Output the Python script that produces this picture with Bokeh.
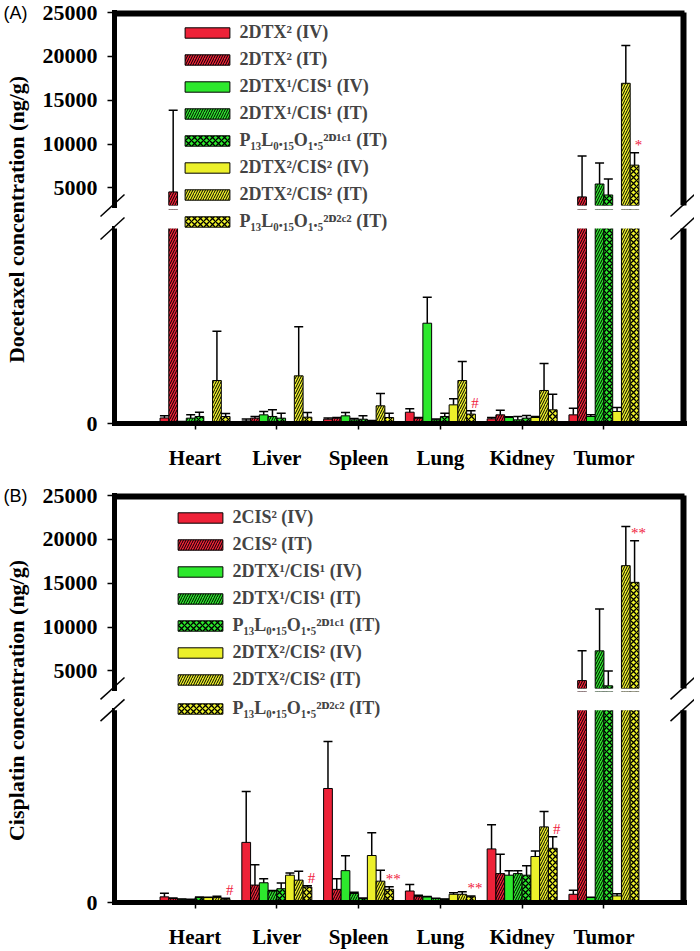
import numpy as np
from bokeh.plotting import figure
from bokeh.models import (FactorRange, Range1d, FixedTicker, ColumnDataSource, Legend,
                          LegendItem, Label, BoxAnnotation, CDSView, BooleanFilter)
from bokeh.transform import dodge
from bokeh.layouts import column, row
from bokeh.core.properties import value
from bokeh.embed import file_html
from bokeh.resources import INLINE

organs = ["Heart", "Liver", "Spleen", "Lung", "Kidney", "Tumor"]

# ---------------- (A) Docetaxel concentration (ng/g): mean and SD ----------------
dtx_2dtx2_iv = [85, 40, 66, 174, 72, 133]
dtx_2dtx2_iv_sd = [36, 30, 20, 52, 20, 103]
dtx_2dtx2_it = [4550, 82, 82, 82, 133, 3980]
dtx_2dtx2_it_sd = [9310, 26, 10, 10, 72, 4660]
dtx_2dtx1cis1_iv = [20, 133, 118, 1543, 92, 108]
dtx_2dtx1cis1_iv_sd = [10, 52, 51, 400, 10, 25]
dtx_2dtx1cis1_it = [82, 108, 56, 56, 56, 5450]
dtx_2dtx1cis1_it_sd = [51, 102, 20, 15, 52, 2390]
dtx_p13_2d1c1_it = [108, 82, 66, 108, 82, 4200]
dtx_p13_2d1c1_it_sd = [65, 77, 52, 51, 41, 1820]
dtx_2dtx2cis2_iv = [15, 15, 30, 287, 92, 185]
dtx_2dtx2cis2_iv_sd = [10, 10, 15, 92, 15, 61]
dtx_2dtx2cis2_it = [661, 733, 272, 661, 508, 16930]
dtx_2dtx2cis2_it_sd = [760, 755, 189, 293, 415, 4320]
dtx_p13_2d2c2_it = [108, 97, 92, 144, 210, 7600]
dtx_p13_2d2c2_it_sd = [46, 72, 67, 51, 241, 1400]
dtx_sig = ["", "", "", "#", "", "*"]

# ---------------- (B) Cisplatin concentration (ng/g): mean and SD ----------------
cis_2cis2_iv = [88, 938, 1779, 179, 836, 128]
cis_2cis2_iv_sd = [56, 795, 733, 103, 379, 62]
cis_2cis2_it = [62, 272, 205, 92, 451, 3900]
cis_2cis2_it_sd = [10, 317, 164, 21, 303, 3390]
cis_2dtx1cis1_iv = [51, 308, 497, 88, 426, 77]
cis_2dtx1cis1_iv_sd = [5, 61, 231, 5, 71, 5]
cis_2dtx1cis1_it = [41, 179, 140, 62, 451, 7290]
cis_2dtx1cis1_it_sd = [10, 10, 20, 5, 46, 4760]
cis_p13_2d1c1_it = [77, 215, 62, 51, 426, 3300]
cis_p13_2d1c1_it_sd = [10, 88, 10, 5, 148, 1700]
cis_2dtx2cis2_iv = [77, 426, 733, 128, 718, 103]
cis_2dtx2cis2_iv_sd = [5, 35, 354, 26, 87, 35]
cis_2dtx2cis2_it = [77, 349, 333, 128, 1180, 17000]
cis_2dtx2cis2_it_sd = [20, 138, 170, 41, 240, 4460]
cis_p13_2d2c2_it = [51, 241, 205, 88, 846, 15100]
cis_p13_2d2c2_it_sd = [15, 20, 41, 15, 180, 4730]
cis_sig = ["#", "#", "**", "**", "#", "**"]

labels_A = ["2DTX² (IV)", "2DTX² (IT)", "2DTX¹/CIS¹ (IV)", "2DTX¹/CIS¹ (IT)",
            "P₁₃L₀.₁₅O₁.₅²ᴰ¹ᶜ¹ (IT)", "2DTX²/CIS² (IV)", "2DTX²/CIS² (IT)",
            "P₁₃L₀.₁₅O₁.₅²ᴰ²ᶜ² (IT)"]
labels_B = ["2CIS² (IV)", "2CIS² (IT)", "2DTX¹/CIS¹ (IV)", "2DTX¹/CIS¹ (IT)",
            "P₁₃L₀.₁₅O₁.₅²ᴰ¹ᶜ¹ (IT)", "2DTX²/CIS² (IV)", "2DTX²/CIS² (IT)",
            "P₁₃L₀.₁₅O₁.₅²ᴰ²ᶜ² (IT)"]

upper_ticks = [5000, 10000, 15000, 20000, 25000]
lower_ticks = [0]
upper_limits = (3000, 25000)   # upper segment of the broken axis
lower_limits = (0, 3000)       # lower segment of the broken axis

# ---------------- styling / geometry ----------------
SERIF = "Liberation Serif"
RED, GREEN, YELLOW = "#ee2238", "#2de82d", "#ecf02a"
SIG_RED = "#f0203c"
STYLES = [(RED, " "), (RED, "/"), (GREEN, " "), (GREEN, "/"), (GREEN, "x"),
          (YELLOW, " "), (YELLOW, "/"), (YELLOW, "x")]
BAR_W = 0.107
OFFSETS = [(i - 3.5) * BAR_W for i in range(8)]
PAD = 0.485
X_START, X_END = -PAD, len(organs) + PAD
W_TITLE = 30
MB_L, MB_R = 84, 10
FRAME_W = 570
W_MAIN = MB_L + FRAME_W + MB_R
PPU = FRAME_W / (X_END - X_START)
UP_SEG_H, LO_SEG_H = 193, 195      # pixel heights of the two axis segments
BORDER_PX = 4


def bar_style(i):
    color, hatch = STYLES[i]
    return dict(fill_color=color, line_color="black", line_width=1,
                hatch_pattern=hatch, hatch_color="black",
                hatch_scale=5 if hatch == "/" else 6,
                hatch_weight=1.0 if hatch == "/" else 1.3)


def style_yaxis(ax, ticks, bounds):
    ax.ticker = FixedTicker(ticks=ticks)
    ax.bounds = bounds
    ax.axis_line_width = 5
    ax.axis_line_cap = "square"
    ax.major_tick_out = 7
    ax.major_tick_in = 0
    ax.major_tick_line_width = 1.5
    ax.minor_tick_line_color = None
    ax.major_label_standoff = 10
    ax.major_label_text_font = SERIF
    ax.major_label_text_font_style = "bold"
    ax.major_label_text_font_size = "22px"
    ax.major_label_text_color = "black"


def new_fig(height, y_range, mb_top, mb_bottom, x_axis):
    p = figure(width=W_MAIN, height=height,
               x_range=FactorRange(*organs, range_padding=PAD, range_padding_units="absolute"),
               y_range=y_range, output_backend="svg", toolbar_location=None,
               min_border_left=MB_L, min_border_right=MB_R,
               min_border_top=mb_top, min_border_bottom=mb_bottom,
               x_axis_location="below" if x_axis else None, y_axis_location="left")
    p.outline_line_color = None
    p.grid.visible = False
    return p


def title_fig(height, title, tag, title_y, tag_y):
    t = figure(width=W_TITLE, height=height, x_range=Range1d(0, W_TITLE),
               y_range=Range1d(0, height), output_backend="svg", toolbar_location=None,
               min_border=0, x_axis_location=None, y_axis_location=None)
    t.outline_line_color = None
    t.grid.visible = False
    t.add_layout(Label(x=15.5, y=height - title_y, text=title, angle=90, angle_units="deg",
                       text_align="center", text_baseline="middle", text_font=SERIF,
                       text_font_style="bold", text_font_size="22px", text_color="black"))
    t.add_layout(Label(x=3, y=height - tag_y, text=tag, text_align="left",
                       text_baseline="middle", text_font="Liberation Sans",
                       text_font_size="18px", text_color="black"))
    return t


def make_panel(series, labels, sig, title, tag, g):
    # canvas-y geometry of this panel (0 = top of the panel)
    up_frame_top = g["up_mt"]
    up_frame_bot = up_frame_top + UP_SEG_H
    up_canvas_bot = up_frame_bot + g["up_mb"]
    lo_frame_top = up_canvas_bot
    seg_top = lo_frame_top + g["gap_in_lo"]
    baseline = seg_top + LO_SEG_H
    lo_h = (baseline - lo_frame_top) + g["lo_mb"]

    u0, u1 = upper_limits
    l0, l1 = lower_limits
    up_per_px = (u1 - u0) / UP_SEG_H
    lo_per_px = (l1 - l0) / LO_SEG_H

    up = new_fig(up_canvas_bot, Range1d(u0, u1), g["up_mt"], g["up_mb"], False)
    lo = new_fig(lo_h, Range1d(l0, l1 + g["gap_in_lo"] * lo_per_px), 0, g["lo_mb"], True)

    style_yaxis(up.yaxis[0], upper_ticks, upper_limits)
    style_yaxis(lo.yaxis[0], lower_ticks, lower_limits)

    xa = lo.xaxis[0]
    xa.axis_line_width = 5
    xa.axis_line_cap = "square"
    xa.major_tick_out = 6
    xa.major_tick_in = 0
    xa.major_tick_line_width = 1.5
    xa.major_label_standoff = 16
    xa.major_label_text_font = SERIF
    xa.major_label_text_font_style = "bold"
    xa.major_label_text_font_size = "21px"
    xa.major_label_text_color = "black"

    sources = [ColumnDataSource(dict(organ=organs, val=vals, hi=list(np.add(vals, sds))))
               for vals, sds in series]
    sig_hi = np.add(*series[7])
    sig_src = ColumnDataSource(dict(organ=organs, hi=list(sig_hi), sig=sig))
    # one-row source (no bar drawn) that only provides the legend swatches
    swatch_src = ColumnDataSource(dict(organ=[organs[0]], val=[float("nan")]))
    swatches = {}
    for name, p, (lim0, lim1) in (("up", up, upper_limits), ("lo", lo, lower_limits)):
        for i, src in enumerate(sources):
            vals = src.data["val"]
            # only the rows that reach this segment of the broken axis
            keep = [v > lim0 for v in vals]
            p.vbar(x=dodge("organ", OFFSETS[i], range=p.x_range), top="val", bottom=0,
                   width=BAR_W, source=src, view=CDSView(filter=BooleanFilter(keep)),
                   **bar_style(i))
        swatches[name] = [p.vbar(x="organ", top="val", bottom=0, width=BAR_W,
                                 source=swatch_src, **bar_style(i)) for i in range(8)]
        for i, src in enumerate(sources):
            xx = dodge("organ", OFFSETS[i], range=p.x_range)
            keep = [lim0 < h and v < lim1 for v, h in zip(src.data["val"], src.data["hi"])]
            view = CDSView(filter=BooleanFilter(keep))
            p.segment(x0=xx, y0="val", x1=xx, y1="hi", source=src, view=view,
                      line_color="black", line_width=1.5)
            keep_cap = [lim0 < h < lim1 for h in src.data["hi"]]
            p.scatter(x=xx, y="hi", marker="dash", size=9, source=src,
                      view=CDSView(filter=BooleanFilter(keep_cap)),
                      line_color="black", line_width=1.5)
        mask = [bool(s) and lim0 <= h < lim1 for s, h in zip(sig, sig_hi)]
        p.text(x=dodge("organ", OFFSETS[7], range=p.x_range), y="hi", text="sig",
               source=sig_src, view=CDSView(filter=BooleanFilter(mask)),
               x_offset=4, text_align="center", text_baseline="bottom",
               text_color=SIG_RED, text_font=value(SERIF), text_font_size="15px")

    # white mask over the gap between the two axis segments (lower figure)
    lo.add_layout(BoxAnnotation(bottom=l1, fill_color="white", fill_alpha=1,
                                line_alpha=0, level="annotation"))

    # frame borders: top and right of the upper segment, right of the lower one
    bx = BORDER_PX / PPU
    up.add_layout(BoxAnnotation(top=u1, bottom=u1 - BORDER_PX * up_per_px,
                                fill_color="black", fill_alpha=1, line_alpha=0))
    up.add_layout(BoxAnnotation(left=X_END - bx, right=X_END, bottom=u0, top=u1,
                                fill_color="black", fill_alpha=1, line_alpha=0))
    lo.add_layout(BoxAnnotation(left=X_END - bx, right=X_END, bottom=l0, top=l1,
                                fill_color="black", fill_alpha=1, line_alpha=0))
    up.segment(x0=[X_START, X_END], y0=[u1, u0], x1=[X_END, X_END], y1=[u1, u1],
               line_color="black", line_width=4, level="overlay")
    lo.segment(x0=[X_END], y0=[l0], x1=[X_END], y1=[l1],
               line_color="black", line_width=4, level="overlay")

    common = dict(orientation="vertical", glyph_width=56, glyph_height=13,
                  label_height=21, spacing=6, padding=0, margin=0,
                  border_line_color=None, background_fill_alpha=0,
                  label_text_font=SERIF, label_text_font_style="bold",
                  label_text_font_size="18px", label_standoff=4)
    up.add_layout(Legend(items=[LegendItem(label=labels[i], renderers=[swatches["up"][i]])
                                for i in range(7)],
                         location=(g["leg_x"], up_frame_bot - g["leg_up_bottom"]), **common))
    lo.add_layout(Legend(items=[LegendItem(label=labels[7], renderers=[swatches["lo"][7]])],
                         location=(g["leg_x"], baseline - g["leg_lo_bottom"]), **common))

    # "//" axis-break symbols, drawn in both figures (each shows its own part)
    def px_x(px):
        return X_START + (px - MB_L) / PPU
    def up_y(py):
        return u1 - (py - up_frame_top) * up_per_px
    def lo_y(py):
        return l0 + (baseline - py) * lo_per_px
    x0s, x1s, ys0, ys1 = [], [], [], []
    for ax_px in (MB_L - 2, MB_L + FRAME_W - 2):
        for cy in (up_frame_bot, seg_top):
            x0s.append(px_x(ax_px - 12)); x1s.append(px_x(ax_px + 12))
            ys0.append(cy + 11); ys1.append(cy - 11)
    up.segment(x0=x0s, x1=x1s, y0=[up_y(v) for v in ys0], y1=[up_y(v) for v in ys1],
               line_color="black", line_width=1.5, level="overlay")
    lo.segment(x0=x0s, x1=x1s, y0=[lo_y(v) for v in ys0], y1=[lo_y(v) for v in ys1],
               line_color="black", line_width=1.5, level="overlay")

    t = title_fig(lo_h + up_canvas_bot, title, tag, g["title_y"], g["tag_y"])
    return row(t, column(up, lo))


series_A = [(dtx_2dtx2_iv, dtx_2dtx2_iv_sd), (dtx_2dtx2_it, dtx_2dtx2_it_sd),
            (dtx_2dtx1cis1_iv, dtx_2dtx1cis1_iv_sd), (dtx_2dtx1cis1_it, dtx_2dtx1cis1_it_sd),
            (dtx_p13_2d1c1_it, dtx_p13_2d1c1_it_sd), (dtx_2dtx2cis2_iv, dtx_2dtx2cis2_iv_sd),
            (dtx_2dtx2cis2_it, dtx_2dtx2cis2_it_sd), (dtx_p13_2d2c2_it, dtx_p13_2d2c2_it_sd)]
series_B = [(cis_2cis2_iv, cis_2cis2_iv_sd), (cis_2cis2_it, cis_2cis2_it_sd),
            (cis_2dtx1cis1_iv, cis_2dtx1cis1_iv_sd), (cis_2dtx1cis1_it, cis_2dtx1cis1_it_sd),
            (cis_p13_2d1c1_it, cis_p13_2d1c1_it_sd), (cis_2dtx2cis2_iv, cis_2dtx2cis2_iv_sd),
            (cis_2dtx2cis2_it, cis_2dtx2cis2_it_sd), (cis_p13_2d2c2_it, cis_p13_2d2c2_it_sd)]

# canvas-pixel geometry, y measured from the top of each panel
geom_A = dict(up_mt=12, up_mb=4, gap_in_lo=19, lo_mb=53,
              leg_x=65.4, leg_up_bottom=204.5, leg_lo_bottom=231.5,
              title_y=219, tag_y=12)
geom_B = dict(up_mt=19, up_mb=3, gap_in_lo=19, lo_mb=46,
              leg_x=58.4, leg_up_bottom=213.5, leg_lo_bottom=245.5,
              title_y=224, tag_y=19.5)

panel_A = make_panel(series_A, labels_A, dtx_sig, "Docetaxel concentration (ng/g)", "(A)", geom_A)
panel_B = make_panel(series_B, labels_B, cis_sig, "Cisplatin concentration (ng/g)", "(B)", geom_B)

layout = column(panel_A, panel_B)
open("out.html", "w", encoding="utf-8").write(file_html(layout, INLINE))
